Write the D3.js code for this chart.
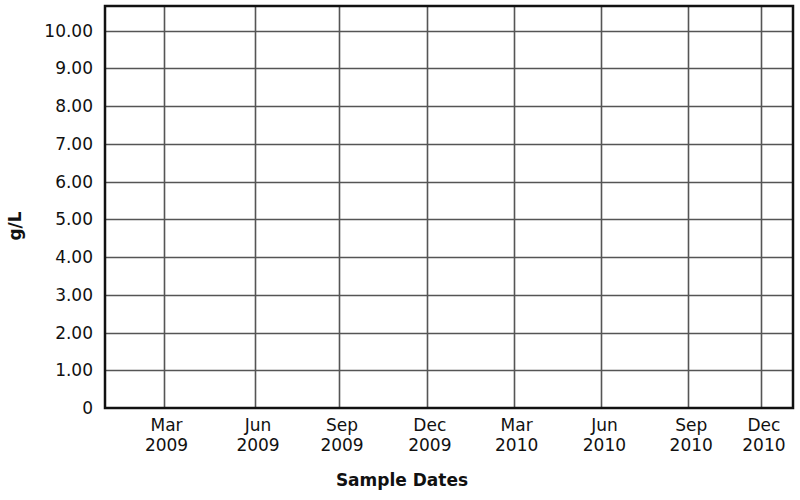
<!DOCTYPE html>
<html>
<head>
<meta charset="utf-8">
<script src="https://cdn.jsdelivr.net/npm/d3@7"></script>
<style>
  html, body { margin: 0; padding: 0; background: #fff; }
  svg { display: block; font-family: "DejaVu Sans", Verdana, sans-serif; }
</style>
</head>
<body>
<svg id="chart" width="800" height="500"></svg>
<script>
// ---- data ----
const xDomain = ["2009-01-01", "2010-12-31"];
const tickDates = ["2009-03-04", "2009-06-09", "2009-09-06", "2009-12-08",
                   "2010-03-10", "2010-06-11", "2010-09-11", "2010-11-27"];
const tickMonths = ["Mar", "Jun", "Sep", "Dec", "Mar", "Jun", "Sep", "Dec"];
const tickYears = ["2009", "2009", "2009", "2009", "2010", "2010", "2010", "2010"];
const yTicks = [0, 1, 2, 3, 4, 5, 6, 7, 8, 9, 10];
const yMax = 10.65;
const yLabel = "g/L";
const xLabel = "Sample Dates";

// ---- layout ----
const W = 800, H = 500;
const m = { left: 105, right: 7, top: 6, bottom: 92 };
const svg = d3.select("#chart");
const parse = d3.timeParse("%Y-%m-%d");

const x = d3.scaleTime()
  .domain(xDomain.map(parse))
  .range([m.left, W - m.right]);
const y = d3.scaleLinear()
  .domain([0, yMax])
  .range([H - m.bottom, m.top]);

const ticks = tickDates.map((d, i) => ({ date: parse(d), mon: tickMonths[i], yr: tickYears[i] }));

// gridlines
const g = svg.append("g");
g.selectAll(".hgrid").data(yTicks.filter(v => v > 0)).join("line")
  .attr("x1", m.left).attr("x2", W - m.right)
  .attr("y1", d => Math.round(y(d)) + 0.5).attr("y2", d => Math.round(y(d)) + 0.5)
  .attr("stroke", "#555").attr("stroke-width", 1.6);
g.selectAll(".vgrid").data(ticks).join("line")
  .attr("x1", d => Math.round(x(d.date)) + 0.5).attr("x2", d => Math.round(x(d.date)) + 0.5)
  .attr("y1", m.top).attr("y2", H - m.bottom)
  .attr("stroke", "#555").attr("stroke-width", 1.6);

// border
svg.append("rect")
  .attr("x", m.left).attr("y", m.top)
  .attr("width", W - m.left - m.right).attr("height", H - m.top - m.bottom)
  .attr("fill", "none").attr("stroke", "#111").attr("stroke-width", 2.5);

// y tick labels
svg.selectAll(".ylab").data(yTicks).join("text")
  .attr("x", 93).attr("y", d => y(d))
  .attr("dy", "0.36em")
  .attr("text-anchor", "end")
  .attr("font-size", 17).attr("fill", "#111")
  .text(d => d === 0 ? "0" : d3.format(".2f")(d));

// x tick labels
const xl = svg.selectAll(".xlab").data(ticks).join("text")
  .attr("text-anchor", "middle")
  .attr("font-size", 17).attr("fill", "#111");
xl.append("tspan").attr("x", d => x(d.date) + 3).attr("y", 431).text(d => d.mon);
xl.append("tspan").attr("x", d => x(d.date) + 3).attr("y", 451).text(d => d.yr);

// axis titles
svg.append("text")
  .attr("transform", "translate(21,226) rotate(-90)")
  .attr("text-anchor", "middle")
  .attr("font-size", 17).attr("font-weight", "bold").attr("fill", "#111")
  .text(yLabel);
svg.append("text")
  .attr("x", 402).attr("y", 486)
  .attr("text-anchor", "middle")
  .attr("font-size", 17).attr("font-weight", "bold").attr("fill", "#111")
  .text(xLabel);
</script>
</body>
</html>
